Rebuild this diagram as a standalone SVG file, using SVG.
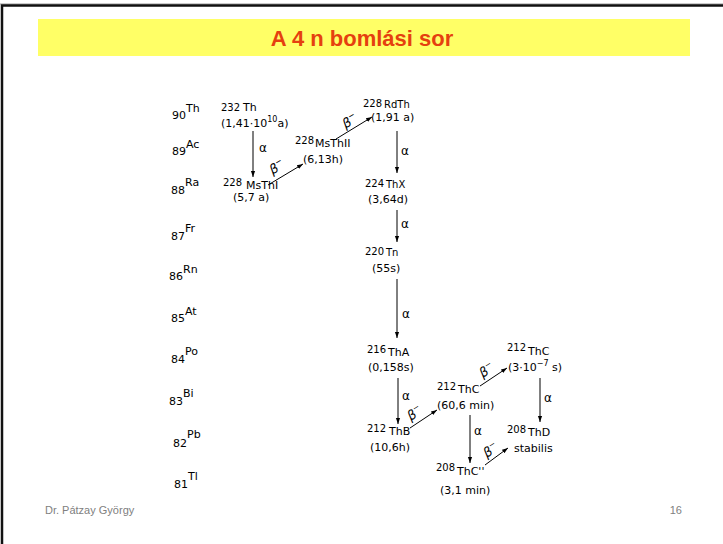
<svg xmlns="http://www.w3.org/2000/svg" width="723" height="544" viewBox="0 0 723 544">
<defs>
<style>
.n{font-family:"DejaVu Sans",sans-serif;font-size:11px;fill:#000}
.s{font-family:"DejaVu Sans",sans-serif;font-size:10px;fill:#000}
.m{font-family:"DejaVu Sans",sans-serif;font-size:10px;fill:#000}
.z{font-family:"DejaVu Sans",sans-serif;font-size:11px;fill:#000}
.a{font-family:"DejaVu Sans",sans-serif;font-size:12px;fill:#000}
.b{font-family:"DejaVu Sans",sans-serif;font-size:13px;font-style:italic;fill:#000;text-anchor:middle}
.ft{font-family:"Liberation Sans",Arial,sans-serif;font-size:11px;fill:#808080}
.c line{stroke:#000;stroke-width:1;marker-end:url(#ah)}
</style>
<marker id="ah" viewBox="0 0 10 10" refX="10" refY="5" markerWidth="6" markerHeight="6" orient="auto" markerUnits="userSpaceOnUse"><path d="M0,1.5 L10,5 L0,8.5 z" fill="#000"/></marker>
</defs>
<rect width="723" height="544" fill="#fff"/>
<g id="frame">
<line x1="0" y1="4" x2="723" y2="4" stroke="#999" stroke-width="1"/>
<path d="M2,544 V5.5 H723" fill="none" stroke="#111" stroke-width="2.5"/>
</g>
<g id="title">
<rect x="38" y="19" width="652" height="37" fill="#ffff66"/>
<text x="362" y="46" text-anchor="middle" font-family="'Liberation Sans',Arial,sans-serif" font-size="22" font-weight="bold" fill="#e5400f">A 4 n bomlási sor</text>
</g>
<g id="element-labels">
<text class="z" x="172" y="119">90<tspan dy="-7">Th</tspan></text>
<text class="z" x="172" y="155">89<tspan dy="-7">Ac</tspan></text>
<text class="z" x="171" y="194">88<tspan dy="-8">Ra</tspan></text>
<text class="z" x="171" y="240">87<tspan dy="-8">Fr</tspan></text>
<text class="z" x="169" y="280">86<tspan dy="-7">Rn</tspan></text>
<text class="z" x="171" y="322">85<tspan dy="-7">At</tspan></text>
<text class="z" x="171" y="363">84<tspan dy="-8">Po</tspan></text>
<text class="z" x="169" y="405">83<tspan dy="-8">Bi</tspan></text>
<text class="z" x="173" y="447">82<tspan dy="-9">Pb</tspan></text>
<text class="z" x="174" y="488">81<tspan dy="-8">Tl</tspan></text>
</g>
<g id="th232">
<text class="s" x="221" y="111">232</text><text class="n" x="243" y="111">Th</text>
<text class="n" x="221" y="127">(1,41·10<tspan font-size="8" dy="-5">10</tspan><tspan dy="5">a)</tspan></text>
</g>
<g id="msth1">
<text class="m" x="223" y="186">228</text><text class="n" x="246" y="189">MsThI</text>
<text class="n" x="233" y="201">(5,7 a)</text>
</g>
<g id="msth2">
<text class="m" x="295" y="144">228</text><text class="n" x="315" y="147">MsThII</text>
<text class="n" x="303" y="163">(6,13h)</text>
</g>
<g id="rdth">
<text class="m" x="363" y="107">228</text><text class="s" x="384" y="108">RdTh</text>
<text class="n" x="371" y="121">(1,91 a)</text>
</g>
<g id="thx">
<text class="m" x="365" y="187">224</text><text class="s" x="386" y="188">ThX</text>
<text class="n" x="368" y="203">(3,64d)</text>
</g>
<g id="tn">
<text class="m" x="365" y="255">220</text><text class="s" x="386" y="256">Tn</text>
<text class="n" x="372" y="272">(55s)</text>
</g>
<g id="tha">
<text class="m" x="367" y="353">216</text><text class="n" x="388" y="356">ThA</text>
<text class="n" x="368" y="371">(0,158s)</text>
</g>
<g id="thb">
<text class="m" x="367" y="432">212</text><text class="n" x="389" y="435">ThB</text>
<text class="n" x="370" y="451">(10,6h)</text>
</g>
<g id="thc">
<text class="m" x="437" y="390">212</text><text class="n" x="458" y="393">ThC</text>
<text class="n" x="437" y="409">(60,6 min)</text>
</g>
<g id="thc1">
<text class="m" x="507" y="351">212</text><text class="n" x="528" y="355">ThC</text>
<text class="n" x="508" y="371">(3·10<tspan font-size="8" dy="-5">−7</tspan><tspan dy="5"> s)</tspan></text>
</g>
<g id="thd">
<text class="m" x="507" y="433">208</text><text class="n" x="528" y="436">ThD</text>
<text class="n" x="514" y="452">stabilis</text>
</g>
<g id="thc2">
<text class="m" x="436" y="471">208</text><text class="n" x="457" y="475">ThC''</text>
<text class="n" x="440" y="494">(3,1 min)</text>
</g>
<g id="connectors" class="c">
<line x1="253" y1="131" x2="253" y2="177"/>
<line x1="397" y1="131" x2="397" y2="173"/>
<line x1="397" y1="210" x2="397" y2="242"/>
<line x1="397" y1="279" x2="397" y2="338"/>
<line x1="398" y1="378" x2="398" y2="424"/>
<line x1="470" y1="415" x2="470" y2="463"/>
<line x1="540" y1="378" x2="540" y2="422"/>
<line x1="268" y1="185" x2="303" y2="164"/>
<line x1="336" y1="139" x2="372" y2="117"/>
<line x1="410" y1="428" x2="437" y2="410"/>
<line x1="480" y1="386" x2="507" y2="368"/>
<line x1="485" y1="465" x2="508" y2="448"/>
<text class="a" x="259" y="152">α</text>
<text class="a" x="401" y="155">α</text>
<text class="a" x="401" y="228">α</text>
<text class="a" x="402" y="318">α</text>
<text class="a" x="402" y="400">α</text>
<text class="a" x="474" y="435">α</text>
<text class="a" x="544" y="402">α</text>
<text class="b" transform="translate(279,171) rotate(-30)">β<tspan font-size="8" dy="-6">−</tspan></text>
<text class="b" transform="translate(352,125) rotate(-30)">β<tspan font-size="8" dy="-6">−</tspan></text>
<text class="b" transform="translate(417,417) rotate(-33)">β<tspan font-size="8" dy="-6">−</tspan></text>
<text class="b" transform="translate(489,374) rotate(-33)">β<tspan font-size="8" dy="-6">−</tspan></text>
<text class="b" transform="translate(493,454) rotate(-33)">β<tspan font-size="8" dy="-6">−</tspan></text>
</g>
<g id="footer">
<text class="ft" x="45" y="514">Dr. Pátzay György</text>
<text class="ft" x="682" y="514" text-anchor="end">16</text>
</g>
</svg>
